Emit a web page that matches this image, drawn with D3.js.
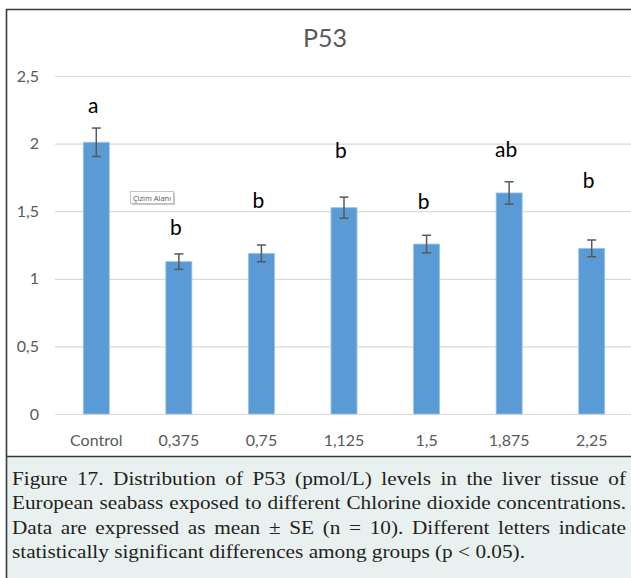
<!DOCTYPE html>
<html>
<head>
<meta charset="utf-8">
<script src="https://cdn.jsdelivr.net/npm/d3@7/dist/d3.min.js"></script>
<style>
  html, body { margin: 0; padding: 0; background: #ffffff; }
  svg { display: block; }
</style>
</head>
<body>
<svg id="chart" width="631" height="578"></svg>
<script>
// ---- data ----
const categories = ["Control", "0,375", "0,75", "1,125", "1,5", "1,875", "2,25"];
const means = [2.01, 1.127, 1.188, 1.526, 1.257, 1.635, 1.225];
const errors = [0.105, 0.057, 0.062, 0.078, 0.065, 0.083, 0.062];
const letters = ["a", "b", "b", "b", "b", "ab", "b"];
const letterLevels = [2.226, 1.324, 1.524, 1.893, 1.516, 1.901, 1.672];
const yTicks = [0, 0.5, 1, 1.5, 2, 2.5];
const title = "P53";
const captionLines = [
  "Figure 17. Distribution of P53 (pmol/L) levels in the liver tissue of",
  "European seabass exposed to different Chlorine dioxide concentrations.",
  "Data are expressed as mean \u00B1 SE (n = 10). Different letters indicate",
  "statistically significant differences among groups (p < 0.05)."
];

// ---- layout ----
const svg = d3.select("#chart");
const W = 631, H = 578;
const plot = { left: 55, right: 633, top: 76, bottom: 414 };
const chartFont = "Lato, 'Open Sans', sans-serif";

// caption background
svg.append("rect").attr("x", 6).attr("y", 456).attr("width", W - 6).attr("height", H - 456)
  .attr("fill", "#e9f1f0");

const x = d3.scaleBand().domain(categories).range([plot.left, plot.right])
  .paddingInner(0.685).paddingOuter(0.3425);
const y = d3.scaleLinear().domain([0, 2.5]).range([plot.bottom, plot.top]);

const locale = d3.formatLocale({ decimal: ",", thousands: ".", grouping: [3], currency: ["", ""] });
const fmt = locale.format("");

// gridlines
const grid = svg.append("g").attr("transform", `translate(${plot.left},0)`)
  .call(d3.axisLeft(y).tickValues(yTicks).tickSize(-(W - plot.left)).tickFormat(""));
grid.select(".domain").remove();
grid.selectAll(".tick line").attr("stroke", "#d9d9d9").attr("stroke-width", 1.2);

// y axis labels
const yAxis = svg.append("g").attr("transform", `translate(${plot.left},0)`)
  .call(d3.axisLeft(y).tickValues(yTicks).tickSize(0).tickPadding(16).tickFormat(fmt));
yAxis.select(".domain").remove();
yAxis.selectAll("text").attr("font-family", chartFont).attr("font-size", 16)
  .attr("fill", "#595959");

// x axis labels
const xAxis = svg.append("g").attr("transform", `translate(0,${plot.bottom})`)
  .call(d3.axisBottom(x).tickSize(0).tickPadding(21));
xAxis.select(".domain").remove();
xAxis.selectAll("text").attr("font-family", chartFont).attr("font-size", 16)
  .attr("fill", "#595959");

// bars
svg.append("g").selectAll("rect").data(categories).join("rect")
  .attr("x", (d) => x(d))
  .attr("width", x.bandwidth())
  .attr("y", (d, i) => y(means[i]))
  .attr("height", (d, i) => y(0) - y(means[i]))
  .attr("fill", "#5b9bd5")
  .attr("stroke", "#9cc3e8")
  .attr("stroke-width", 0.8);

// error bars
const eb = svg.append("g").attr("stroke", "#595959").attr("stroke-width", 1.5).attr("fill", "none");
const cap = 4.5;
categories.forEach((c, i) => {
  const cx = x(c) + x.bandwidth() / 2;
  const t = y(means[i] + errors[i]), b = y(means[i] - errors[i]);
  eb.append("line").attr("x1", cx).attr("x2", cx).attr("y1", t).attr("y2", b);
  eb.append("line").attr("x1", cx - cap).attr("x2", cx + cap).attr("y1", t).attr("y2", t);
  eb.append("line").attr("x1", cx - cap).attr("x2", cx + cap).attr("y1", b).attr("y2", b);
});

// significance letters
svg.append("g").selectAll("text").data(categories).join("text")
  .attr("x", (d) => x(d) + x.bandwidth() / 2 - 3)
  .attr("y", (d, i) => y(letterLevels[i]))
  .attr("text-anchor", "middle")
  .attr("font-family", chartFont)
  .attr("font-size", 21)
  .attr("fill", "#000000")
  .text((d, i) => letters[i]);

// title
svg.append("text").attr("x", 325).attr("y", 47).attr("text-anchor", "middle")
  .attr("font-family", chartFont).attr("font-size", 25).attr("fill", "#595959")
  .text(title);

// "Çizim Alanı" tooltip
const tip = svg.append("g");
tip.append("rect").attr("x", 132).attr("y", 193).attr("width", 43).attr("height", 12)
  .attr("fill", "#c8c8c8");
tip.append("rect").attr("x", 130.5).attr("y", 191.5).attr("width", 43).attr("height", 12)
  .attr("fill", "#ffffff").attr("stroke", "#b5b5b5").attr("stroke-width", 0.8);
tip.append("text").attr("x", 152).attr("y", 200.5).attr("text-anchor", "middle")
  .attr("font-family", "'Open Sans', sans-serif").attr("font-size", 7.5).attr("fill", "#555555")
  .text("Çizim Alanı");

// frame lines
const frame = svg.append("g").attr("stroke", "#3a3a3a").attr("stroke-width", 1.6);
frame.append("line").attr("x1", 6.5).attr("x2", 6.5).attr("y1", 9).attr("y2", H);
frame.append("line").attr("x1", 6).attr("x2", W).attr("y1", 9.5).attr("y2", 9.5);
frame.append("line").attr("x1", 6).attr("x2", W).attr("y1", 456.5).attr("y2", 456.5);

// caption, justified (horizontally widened serif to mimic the original typeface)
const capFont = "'Liberation Serif', 'DejaVu Serif', serif";
const sx = 1.12;
const capLeft = 12, capRight = 626, capSize = 19;
const baselines = [485, 509, 534, 558];
const capG = svg.append("g").attr("transform", `scale(${sx},1)`)
  .attr("font-family", capFont).attr("font-size", capSize).attr("fill", "#231f20");
captionLines.forEach((line, li) => {
  const words = line.split(" ");
  const nodes = words.map((w) => capG.append("text").attr("y", baselines[li]).text(w));
  const widths = nodes.map((n) => n.node().getComputedTextLength());
  const total = d3.sum(widths);
  const isLast = li === captionLines.length - 1;
  const L = capLeft / sx, R = capRight / sx;
  const gap = isLast ? capSize * 0.25 : (R - L - total) / (words.length - 1);
  let cx = L;
  nodes.forEach((n, i) => { n.attr("x", cx); cx += widths[i] + gap; });
});
</script>
</body>
</html>
